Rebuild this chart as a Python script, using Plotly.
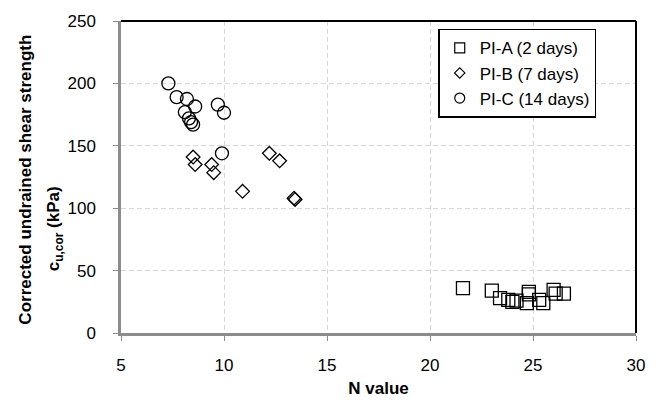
import plotly.graph_objects as go

# PI-A (2 days)
a_n = [21.6, 23.0, 23.4, 23.8, 24.0, 24.2, 24.8, 24.8, 24.7, 25.3, 25.5, 26.0, 26.1, 26.5]
a_cu = [36, 34, 28, 26.5, 25, 26, 33, 31, 24, 26.5, 24, 34.5, 31.5, 31.5]
# PI-B (7 days)
b_n = [8.5, 8.6, 9.4, 9.5, 10.9, 12.2, 12.7, 13.4, 13.45]
b_cu = [141, 135, 135, 128.5, 113.5, 144, 138, 108, 107]
# PI-C (14 days)
c_n = [7.3, 7.7, 8.2, 8.6, 9.7, 10.0, 8.1, 8.3, 8.4, 8.5, 9.9]
c_cu = [200, 189, 187.5, 181.5, 183, 176.5, 177, 172, 169, 167, 144]

names = ["PI-A (2 days)", "PI-B (7 days)", "PI-C (14 days)"]
x_ticks = [5, 10, 15, 20, 25, 30]
y_ticks = [0, 50, 100, 150, 200, 250]

FONT = "Liberation Sans, Arial, sans-serif"
clear = "rgba(0,0,0,0)"

fig = go.Figure()
series = [(a_n, a_cu, "square", 13), (b_n, b_cu, "diamond", 10.5), (c_n, c_cu, "circle", 13)]
for (xs, ys, sym, sz), nm in zip(series, names):
    fig.add_trace(go.Scatter(x=xs, y=ys, mode="markers", showlegend=False, name=nm,
                             marker=dict(symbol=sym, size=sz, color=clear,
                                         line=dict(color="black", width=1.3))))
# legend entries with smaller symbols
leg_sizes = {"square": 10, "diamond": 8, "circle": 10}
for (xs, ys, sym, sz), nm in zip(series, names):
    fig.add_trace(go.Scatter(x=[None], y=[None], mode="markers", name=nm,
                             marker=dict(symbol=sym, size=leg_sizes[sym], color=clear,
                                         line=dict(color="black", width=1.2))))

axis_common = dict(
    showline=True, linecolor="#8c8c8c", linewidth=2.5,
    ticks="outside", ticklen=5, tickcolor="#8c8c8c", tickwidth=1,
    showgrid=True, gridcolor="#d9d9d9", gridwidth=1.2, griddash="5px,3px",
    zeroline=False, tickfont=dict(family=FONT, size=17, color="black"),
)
fig.update_xaxes(range=[5, 30], tickvals=x_ticks, ticklabelstandoff=10,
                 title=dict(text="<b>N value</b>", font=dict(family=FONT, size=17, color="black"),
                            standoff=8), **axis_common)
fig.update_yaxes(range=[0, 250], tickvals=y_ticks, ticklabelstandoff=14, **axis_common)

# black border on top and right
fig.add_shape(type="line", xref="paper", yref="paper", x0=0, x1=1, y0=1, y1=1,
              line=dict(color="black", width=2))
fig.add_shape(type="line", xref="paper", yref="paper", x0=1, x1=1, y0=0, y1=1,
              line=dict(color="black", width=2))

fig.add_annotation(text="<b>Corrected undrained shear strength</b>", textangle=-90,
                   xref="paper", yref="paper", x=-0.1857, y=0.4927,
                   xanchor="center", yanchor="middle", showarrow=False,
                   font=dict(family=FONT, size=17, color="black"))
fig.add_annotation(text="<b>c<sub>u,cor</sub> (kPa)</b>", textangle=-90,
                   xref="paper", yref="paper", x=-0.1275, y=0.3336,
                   xanchor="center", yanchor="middle", showarrow=False,
                   font=dict(family=FONT, size=17, color="black"))

fig.update_layout(
    width=662, height=407,
    margin=dict(l=121, r=26, t=13, b=73),
    paper_bgcolor="white", plot_bgcolor="white",
    font=dict(family=FONT, size=17, color="black"),
    legend=dict(x=0.616, y=0.975, xanchor="left", yanchor="top",
                bgcolor="white", bordercolor="black", borderwidth=1.5,
                font=dict(family=FONT, size=17, color="black"),
                itemwidth=30, tracegroupgap=0),
)

fig.write_html("out.html")
